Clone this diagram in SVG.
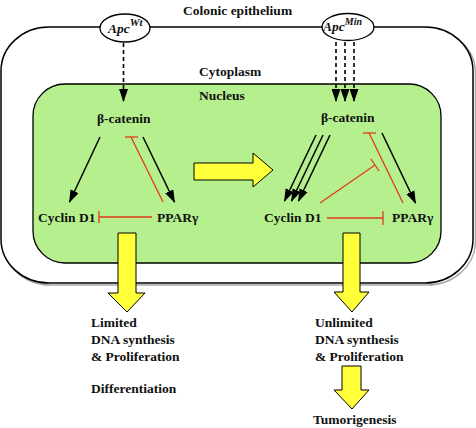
<svg xmlns="http://www.w3.org/2000/svg" width="476" height="428" viewBox="0 0 476 428">
<defs>
<style>
.t{font-family:"Liberation Serif","Times New Roman",serif;font-weight:bold;font-size:13.5px;fill:#111}
.apc{font-family:"Liberation Serif","Times New Roman",serif;font-weight:bold;font-style:italic;fill:#111}
.blk{stroke:#000;stroke-width:1.5;fill:none}
.dash{stroke:#000;stroke-width:1.6;fill:none;stroke-dasharray:4 3}
.red{stroke:#e03a1a;stroke-width:1.3;fill:none}
.yel{fill:#ffff3a;stroke:#000;stroke-width:1;stroke-linejoin:miter}
</style>
<marker id="ah" viewBox="0 0 13 9" refX="12" refY="4.5" markerWidth="13" markerHeight="9" markerUnits="userSpaceOnUse" orient="auto">
<path d="M0,0 L13,4.5 L0,9 z" fill="#000"/>
</marker>
</defs>
<rect width="476" height="428" fill="#fff"/>
<g id="cell">
<rect x="2.5" y="29" width="473" height="256" rx="48" ry="44" fill="none" stroke="#aaa" stroke-width="1.5"/>
<rect x="1" y="27" width="472" height="256" rx="48" ry="44" fill="#fff" stroke="#000" stroke-width="1.5"/>
<text class="t" x="183" y="15">Colonic epithelium</text>
<text class="t" x="199" y="76">Cytoplasm</text>
</g>
<g id="nucleus">
<rect x="33" y="84" width="408" height="179" rx="32" ry="32" fill="#b6f08e" stroke="#000" stroke-width="1.3"/>
<text class="t" x="199" y="100">Nucleus</text>
</g>
<g id="apc-wt">
<ellipse cx="125" cy="28" rx="25" ry="14" fill="#fff" stroke="#000" stroke-width="1.3"/>
<text class="apc" x="108" y="33" font-size="13.5">Apc<tspan font-size="11" dy="-7">Wt</tspan></text>
</g>
<g id="apc-min">
<ellipse cx="348" cy="27" rx="26" ry="13.5" fill="#fff" stroke="#000" stroke-width="1.3"/>
<text class="apc" x="323" y="31" font-size="13.5">Apc<tspan font-size="10" dy="-6">Min</tspan></text>
</g>
<g id="bcat-left"><text class="t" x="97" y="123">β-catenin</text></g>
<g id="cyclin-left"><text class="t" x="38" y="222">Cyclin D1</text></g>
<g id="ppar-left"><text class="t" x="157" y="222">PPARγ</text></g>
<g id="bcat-right"><text class="t" x="321" y="122">β-catenin</text></g>
<g id="cyclin-right"><text class="t" x="264" y="222">Cyclin D1</text></g>
<g id="ppar-right"><text class="t" x="392" y="222">PPARγ</text></g>
<g id="out-left">
<text class="t" x="91" y="327">Limited</text>
<text class="t" x="91" y="344">DNA synthesis</text>
<text class="t" x="91" y="361">&amp; Proliferation</text>
<text class="t" x="91" y="393">Differentiation</text>
</g>
<g id="out-right">
<text class="t" x="315" y="327">Unlimited</text>
<text class="t" x="315" y="344">DNA synthesis</text>
<text class="t" x="315" y="361">&amp; Proliferation</text>
</g>
<g id="tumor"><text class="t" x="313" y="424">Tumorigenesis</text></g>
<g id="connectors">
<line class="dash" x1="123.5" y1="43" x2="123.5" y2="101" marker-end="url(#ah)"/>
<line class="dash" x1="336" y1="42" x2="336" y2="101" marker-end="url(#ah)"/>
<line class="dash" x1="345" y1="42" x2="345" y2="101" marker-end="url(#ah)"/>
<line class="dash" x1="354" y1="42" x2="354" y2="101" marker-end="url(#ah)"/>
<line class="blk" x1="100" y1="137" x2="69.5" y2="202" marker-end="url(#ah)"/>
<line class="blk" x1="143" y1="137" x2="174.5" y2="202" marker-end="url(#ah)"/>
<line class="red" x1="163" y1="202" x2="131" y2="137"/>
<line class="red" x1="125" y1="137" x2="138" y2="137"/>
<line class="red" x1="152" y1="217" x2="99" y2="217"/>
<line class="red" x1="99" y1="211" x2="99" y2="223"/>
<line class="blk" x1="316" y1="135" x2="284.5" y2="201" marker-end="url(#ah)"/>
<line class="blk" x1="323" y1="135" x2="291.5" y2="201" marker-end="url(#ah)"/>
<line class="blk" x1="330" y1="135" x2="298.5" y2="201" marker-end="url(#ah)"/>
<line class="blk" x1="382" y1="133" x2="415.5" y2="203" marker-end="url(#ah)"/>
<line class="red" x1="403" y1="203" x2="369" y2="133"/>
<line class="red" x1="363" y1="133" x2="376" y2="133"/>
<line class="red" x1="320" y1="203" x2="375" y2="165"/>
<line class="red" x1="371" y1="159" x2="379" y2="171"/>
<line class="red" x1="327" y1="218" x2="383" y2="218"/>
<line class="red" x1="383" y1="211" x2="383" y2="225"/>
<polygon class="yel" points="194,163 253,163 253,153 273,170 253,187 253,180 194,180"/>
<polygon class="yel" points="118,233 136,233 136,293 145,293 127,312 108,293 118,293"/>
<polygon class="yel" points="343,233 360,233 360,292 369,292 352,312 334,292 343,292"/>
<polygon class="yel" points="342,366 361,366 361,390 369,390 352,409 334,390 342,390"/>
</g>
</svg>
